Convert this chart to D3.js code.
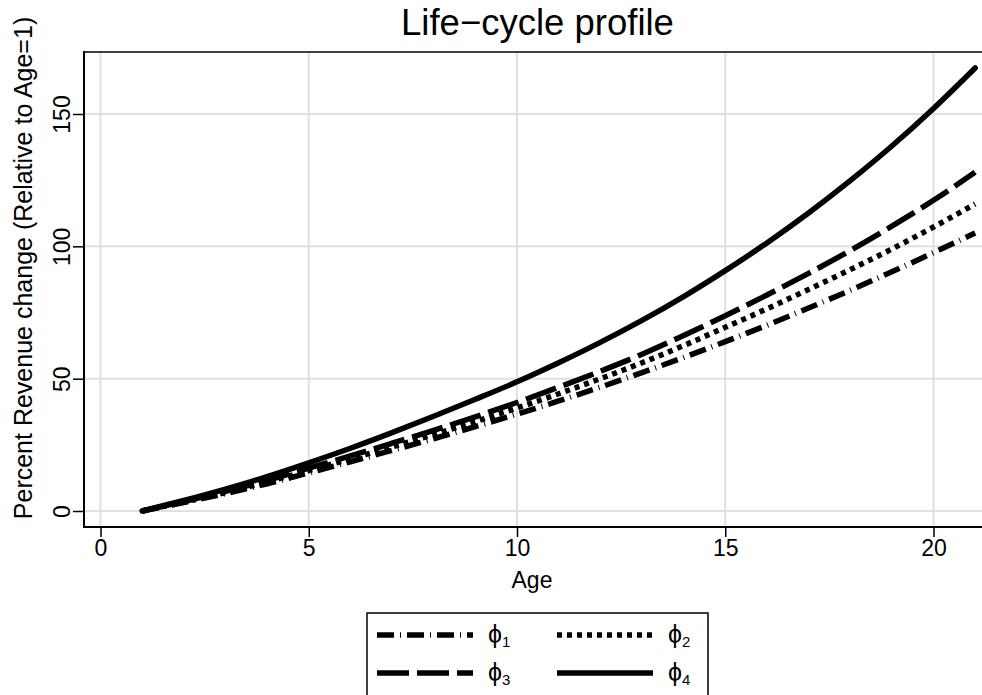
<!DOCTYPE html>
<html>
<head>
<meta charset="utf-8">
<script src="https://cdn.jsdelivr.net/npm/d3@7"></script>
<style>
  body { margin: 0; background: #fff; }
  svg { display: block; }
  text { font-family: "Liberation Sans", Arial, Helvetica, sans-serif; fill: #000; }
</style>
</head>
<body>
<svg id="chart" width="982" height="695"></svg>
<script>
// Age of the firm (years)
const ages = [1, 2, 3, 4, 5, 6, 7, 8, 9, 10, 11, 12, 13, 14, 15, 16, 17, 18, 19, 20, 21];

// Percent revenue change relative to age 1, one profile per phi
const phi1 = [0, 3.2, 6.6, 10.3, 14.4, 18.6, 22.9, 27.3, 31.9, 36.6, 41.6, 46.8, 52.3, 58.0, 64.0, 70.2, 76.7, 83.4, 90.4, 97.6, 105.0];
const phi2 = [0, 3.4, 7.0, 11.0, 15.3, 19.7, 24.2, 28.9, 33.8, 38.9, 44.3, 50.0, 56.0, 62.5, 69.4, 76.4, 83.7, 91.2, 99.0, 107.3, 116.0];
const phi3 = [0, 3.6, 7.4, 11.6, 16.2, 20.8, 25.6, 30.5, 35.6, 41.0, 46.8, 52.8, 59.2, 66.3, 73.8, 81.6, 89.8, 98.4, 107.6, 117.4, 128.0];
const phi4 = [0, 4.0, 8.3, 13.0, 18.2, 23.7, 29.6, 35.8, 42.2, 48.8, 56.0, 63.7, 72.0, 81.0, 90.8, 101.3, 112.6, 124.8, 137.9, 152.1, 167.4];

const seriesLabels = ["1", "2", "3", "4"];   // subscripts on phi
const xTicks = [0, 5, 10, 15, 20];
const yTicks = [0, 50, 100, 150];

const chartTitle = "Life\u2212cycle profile";
const xTitle = "Age";
const yTitle = "Percent Revenue change (Relative to Age=1)";

// Line styles per series
const dashes = ["17,6,1,6", "5,5", "32,8", null];

const series = [phi1, phi2, phi3, phi4].map((vals, i) => ({
  label: seriesLabels[i],
  dash: dashes[i],
  points: ages.map((a, j) => ({ age: a, value: vals[j] }))
}));

const svg = d3.select("#chart");

// Plot region edges
const plotL = 84, plotR = 982, plotT = 52, plotB = 527;

const x = d3.scaleLinear().domain([0, 20]).range([100.5, 933.5]);
const y = d3.scaleLinear().domain([0, 150]).range([511, 114]);

// Gridlines
const grid = svg.append("g").attr("stroke", "#e0e0e0").attr("stroke-width", 2);
grid.selectAll(".vg").data(xTicks).join("line")
  .attr("class", "vg")
  .attr("x1", d => x(d)).attr("x2", d => x(d))
  .attr("y1", plotT).attr("y2", plotB);
grid.selectAll(".hg").data(yTicks).join("line")
  .attr("class", "hg")
  .attr("x1", plotL).attr("x2", plotR)
  .attr("y1", d => y(d)).attr("y2", d => y(d));

// Curves
const line = d3.line()
  .x(d => x(d.age))
  .y(d => y(d.value))
  .curve(d3.curveMonotoneX);

svg.append("g").selectAll("path").data(series).join("path")
  .attr("d", d => line(d.points))
  .attr("fill", "none")
  .attr("stroke", "#000")
  .attr("stroke-width", 5.5)
  .attr("stroke-linecap", d => d.dash ? "butt" : "round")
  .attr("stroke-linejoin", "round")
  .attr("stroke-dasharray", d => d.dash);

// Frame lines (left axis, bottom axis, top edge)
const frame = svg.append("g").attr("stroke", "#000").attr("stroke-width", 2).attr("fill", "none");
frame.append("line").attr("x1", plotL).attr("x2", plotL).attr("y1", plotT - 1).attr("y2", plotB + 1);
frame.append("line").attr("x1", plotL - 1).attr("x2", plotR).attr("y1", plotB).attr("y2", plotB);
frame.append("line").attr("x1", plotL - 1).attr("x2", plotR).attr("y1", plotT).attr("y2", plotT).attr("stroke-width", 1.5);

// X axis
const xAxis = svg.append("g")
  .attr("transform", `translate(0,${plotB})`)
  .call(d3.axisBottom(x).tickValues(xTicks).tickSize(10).tickPadding(3).tickFormat(d3.format("d")));
xAxis.select(".domain").remove();
xAxis.selectAll(".tick line").attr("stroke", "#000").attr("stroke-width", 1.5);
xAxis.selectAll(".tick text").attr("font-size", 23).attr("fill", "#000");

// Y axis with rotated labels
const yAxis = svg.append("g")
  .attr("transform", `translate(${plotL},0)`)
  .call(d3.axisLeft(y).tickValues(yTicks).tickSize(11).tickFormat(d3.format("d")));
yAxis.select(".domain").remove();
yAxis.selectAll(".tick line").attr("stroke", "#000").attr("stroke-width", 1.5);
yAxis.selectAll(".tick text")
  .attr("font-size", 23).attr("fill", "#000")
  .attr("x", 0).attr("dy", null)
  .attr("text-anchor", "middle")
  .attr("transform", "translate(-14,0) rotate(-90)");

// Titles
svg.append("text")
  .attr("x", 537.5).attr("y", 35)
  .attr("text-anchor", "middle")
  .attr("font-size", 36.5)
  .text(chartTitle);

svg.append("text")
  .attr("x", 532).attr("y", 588)
  .attr("text-anchor", "middle")
  .attr("font-size", 23)
  .text(xTitle);

svg.append("text")
  .attr("transform", "translate(32,268) rotate(-90)")
  .attr("text-anchor", "middle")
  .attr("font-size", 25)
  .text(yTitle);

// Legend
const legend = svg.append("g");
legend.append("rect")
  .attr("x", 367).attr("y", 613).attr("width", 341).attr("height", 110)
  .attr("fill", "#fff").attr("stroke", "#000").attr("stroke-width", 1.5);

const cols = [377, 557], rows = [635, 673];
const items = legend.selectAll(".item").data(series).join("g")
  .attr("class", "item")
  .attr("transform", (d, i) => `translate(${cols[i % 2]},${rows[Math.floor(i / 2)]})`);

items.append("line")
  .attr("x1", 0).attr("x2", 96).attr("y1", 0).attr("y2", 0)
  .attr("stroke", "#000").attr("stroke-width", 5.5)
  .attr("stroke-dasharray", d => d.dash);

const lbl = items.append("text")
  .attr("x", 111).attr("y", 8)
  .attr("font-size", 25);
lbl.append("tspan").text("\u03D5");
lbl.append("tspan").attr("font-size", 15).attr("dy", 4).text(d => d.label);
</script>
</body>
</html>
